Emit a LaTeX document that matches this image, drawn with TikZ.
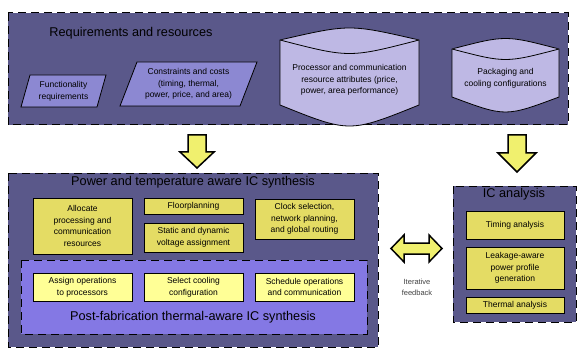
\documentclass[tikz,border=0pt]{standalone}
\usepackage{fontspec}
\setmainfont{Liberation Sans}
\definecolor{slate}{RGB}{90,88,138}
\definecolor{lilac}{RGB}{140,136,210}
\definecolor{drum}{RGB}{190,184,228}
\definecolor{postfab}{RGB}{132,120,228}
\definecolor{mustard}{RGB}{228,220,100}
\definecolor{cream}{RGB}{255,255,150}
\definecolor{arrowfill}{RGB}{240,240,110}
\begin{document}
\begin{tikzpicture}[x=1pt,y=-1pt,
  cont/.style={draw,fill=slate,line width=1pt,dash pattern=on 8pt off 5pt},
  title/.style={font=\fontsize{12.7}{15}\selectfont},
  txt/.style={align=center,inner sep=0pt,font=\fontsize{8.5}{11.7}\selectfont},
  ybox/.style={txt,draw,fill=mustard,line width=0.8pt},
  cbox/.style={ybox,fill=cream},
  drumline/.style={draw,fill=drum,line width=0.8pt},
  blockarrow/.style={draw,fill=arrowfill,line width=1.5pt,line join=miter}]
  \useasboundingbox (0,0) rectangle (581,350);
  \draw [cont] (8,13) rectangle (568,125);
  \node [title] (req) at (131,33) {Requirements and resources};
  \draw [fill=lilac,line width=0.8pt] (21,107)--(30,75)--(106,75)--(97,107)--cycle;
  \node [txt] (func) at (63.5,91) {Functionality\\requirements};
  \draw [fill=lilac,line width=0.8pt] (120,106)--(137,62)--(257,62)--(240,106)--cycle;
  \node [txt] (cons) at (188.5,84) {Constraints and costs\\(timing, thermal,\\power, price, and area)};
  \draw [drumline] (280,40)--(280,105) .. controls (349.5,133) .. (419,105)--(419,40) .. controls (349.5,24) .. cycle;
  \draw [drumline] (280,40) .. controls (349.5,58) .. (419,40);
  \node [txt] (proc) at (349.5,80) {Processor and communication\\resource attributes (price,\\power, area performance)};
  \draw [drumline] (452,49)--(452,97) .. controls (505.5,117) .. (559,97)--(559,49) .. controls (505.5,35) .. cycle;
  \draw [drumline] (452,49) .. controls (505.5,63) .. (559,49);
  \node [txt] (pack) at (505.5,78) {Packaging and\\cooling configurations};
  \draw [blockarrow] (188,135)--(206,135)--(206,152)--(214,152)--(197,168)--(180,152)--(188,152)--cycle;
  \draw [blockarrow] (508,135)--(526,135)--(526,153)--(536,153)--(517,172)--(498,153)--(508,153)--cycle;
  \draw [cont] (8,173) rectangle (378,347);
  \node [title] (synth) at (193,182) {Power and temperature aware IC synthesis};
  \node [ybox,minimum width=99,minimum height=56] (alloc) at (82.5,226) {Allocate\\processing and\\communication\\resources};
  \node [ybox,minimum width=99,minimum height=16] (floor) at (193.5,206) {Floorplanning};
  \node [ybox,minimum width=99,minimum height=29] (volt) at (193.5,237.5) {Static and dynamic\\voltage assignment};
  \node [ybox,minimum width=99,minimum height=40] (clock) at (304.5,219) {Clock selection,\\network planning,\\and global routing};
  \draw [cont,fill=postfab] (21,260) rectangle (367,334);
  \node [title] (post) at (193,317) {Post-fabrication thermal-aware IC synthesis};
  \node [cbox,minimum width=99,minimum height=28] (assign) at (82.5,287) {Assign operations\\to processors};
  \node [cbox,minimum width=99,minimum height=28] (cool) at (193.5,287) {Select cooling\\configuration};
  \node [cbox,minimum width=99,minimum height=28] (sched) at (304.5,287) {Schedule operations\\and communication};
  \draw [blockarrow] (391,248.5)--(404,235)--(404,243)--(429,243)--(429,235)--(442,248.5)--(429,262)--(429,254)--(404,254)--(404,262)--cycle;
  \node [txt,text=black!75,font=\fontsize{7.5}{11}\selectfont] (iter) at (417,287) {Iterative\\feedback};
  \draw [cont] (453,186) rectangle (576,322);
  \node [title] (ana) at (514,194) {IC analysis};
  \node [ybox,minimum width=98,minimum height=28] (timing) at (515,225) {Timing analysis};
  \node [ybox,minimum width=98,minimum height=42] (leak) at (515,268) {Leakage-aware\\power profile\\generation};
  \node [ybox,minimum width=98,minimum height=16] (therm) at (515,305) {Thermal analysis};
\end{tikzpicture}
\end{document}
